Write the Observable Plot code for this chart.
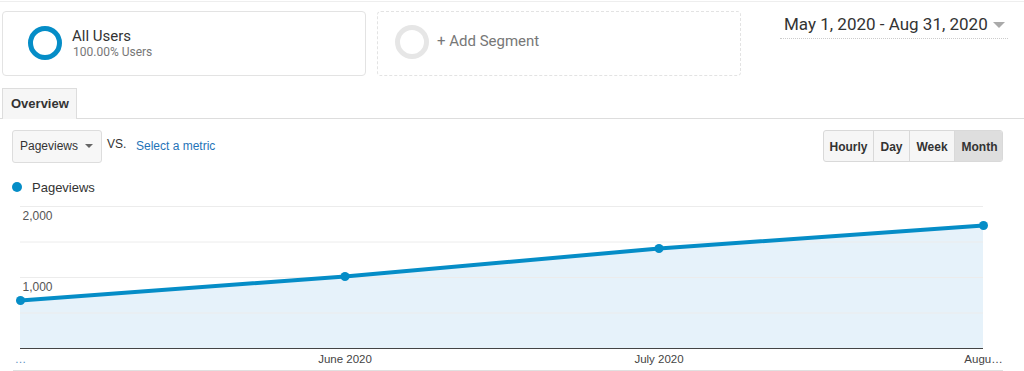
<!DOCTYPE html>
<html>
<head>
<meta charset="utf-8">
<script src="https://cdn.jsdelivr.net/npm/d3@7"></script>
<script src="https://cdn.jsdelivr.net/npm/@observablehq/plot@0.6"></script>
<style>
  html, body { margin: 0; padding: 0; background: #fff; }
  body { width: 1024px; height: 371px; position: relative; overflow: hidden; font-family: "Liberation Sans", Arial, sans-serif; color: #333; }
  .abs { position: absolute; }
  .seg { border: 1px solid #e3e3e3; border-radius: 4px; box-sizing: border-box; }
  .ring { border-radius: 50%; box-sizing: border-box; }
  .btn { position: absolute; top: 0; height: 32px; line-height: 32px; text-align: center; font-weight: bold; font-size: 12px; color: #333; box-sizing: border-box; border-right: 1px solid #d9d9d9; }
  #chart { position: absolute; left: 0; top: 196px; }
</style>
</head>
<body>
<div class="abs" style="left:0;top:1px;width:1024px;height:1px;background:#eee"></div>

<div class="abs seg" style="left:2px;top:11px;width:364px;height:65px"></div>
<div class="abs ring" style="left:28px;top:26px;width:34px;height:34px;border:5px solid #058dc7"></div>
<div class="abs" id="segName" style="left:72px;top:27px;font-family:Roboto,sans-serif;font-size:15px;color:#333">All Users</div>
<div class="abs" id="segPct" style="left:73px;top:45px;font-family:Roboto,sans-serif;font-size:12px;color:#777">100.00% Users</div>

<div class="abs seg" style="left:377px;top:11px;width:364px;height:65px;border:1px dashed #e3e3e3"></div>
<div class="abs ring" style="left:395px;top:25px;width:34px;height:34px;border:5px solid #e6e6e6"></div>
<div class="abs" id="addSeg" style="left:437px;top:32px;font-family:Roboto,sans-serif;font-size:15px;color:#777">+ Add Segment</div>

<div class="abs" id="dateRange" style="left:784px;top:14px;font-family:Roboto,sans-serif;font-size:17px;color:#333">May 1, 2020 - Aug 31, 2020</div>
<div class="abs" style="left:993px;top:22px;width:0;height:0;border-left:6px solid transparent;border-right:6px solid transparent;border-top:6px solid #aaa"></div>
<div class="abs" style="left:780px;top:38px;width:228px;height:0;border-top:1px dotted #ccc"></div>

<div class="abs" style="left:0;top:118px;width:1024px;height:1px;background:#ddd"></div>
<div class="abs" style="left:2px;top:88px;width:75px;height:31px;background:#f6f6f6;border:1px solid #ddd;border-bottom:none;box-sizing:border-box"></div>
<div class="abs" style="left:11px;top:96px;font-size:13px;font-weight:bold;color:#333">Overview</div>

<div class="abs" style="left:12px;top:130px;width:90px;height:33px;border:1px solid #ddd;border-radius:3px;background:#f7f7f7;box-sizing:border-box"></div>
<div class="abs" style="left:20px;top:139px;font-size:12px;color:#333">Pageviews</div>
<div class="abs" style="left:85px;top:144px;width:0;height:0;border-left:4px solid transparent;border-right:4px solid transparent;border-top:4px solid #666"></div>
<div class="abs" style="left:107px;top:137px;font-size:12px;color:#333">VS.</div>
<div class="abs" style="left:136px;top:139px;font-size:12px;color:#1f74b8">Select a metric</div>

<div class="abs" style="left:823px;top:130px;width:180px;height:32px;border:1px solid #d9d9d9;border-radius:3px;background:#f6f6f6;box-sizing:border-box;overflow:hidden">
  <div class="btn" style="left:0;width:50px">Hourly</div>
  <div class="btn" style="left:50px;width:36px">Day</div>
  <div class="btn" style="left:86px;width:45px">Week</div>
  <div class="btn" style="left:131px;width:49px;background:#dedede;border-right:none">Month</div>
</div>

<div class="abs" style="left:12px;top:182px;width:10px;height:10px;border-radius:50%;background:#058dc7"></div>
<div class="abs" style="left:32px;top:180px;font-size:13px;color:#333">Pageviews</div>

<div class="abs" style="left:13px;top:370px;width:990px;height:1px;background:#e0e0e0"></div>

<div id="chart"></div>

<script>
const months = ["2020-05-01", "2020-06-01", "2020-07-01", "2020-08-01"];
const pageviews = [676, 1014, 1408, 1732];
const xLabels = ["…", "June 2020", "July 2020", "Augu…"];
const gridValues = [500, 1000, 1500, 2000];
const yTickValues = [1000, 2000];
const yTickLabels = ["1,000", "2,000"];

const parse = d3.utcParse("%Y-%m-%d");
const data = months.map((m, i) => ({date: parse(m), value: pageviews[i]}));
const xTicks = months.map((m, i) => ({date: parse(m), label: xLabels[i]}));
const yTicks = yTickValues.map((v, i) => ({value: v, label: yTickLabels[i], date: parse(months[0])}));

const chart = Plot.plot({
  width: 1024,
  height: 175,
  marginLeft: 20,
  marginRight: 41,
  marginTop: 10,
  marginBottom: 23,
  style: {background: "transparent", fontFamily: "'Liberation Sans', Arial, sans-serif"},
  x: {type: "utc", domain: [parse(months[0]), parse(months[months.length - 1])], axis: null},
  y: {domain: [0, 2000], axis: null},
  marks: [
    Plot.areaY(data, {x: "date", y: "value", fill: "#e6f2fa"}),
    Plot.ruleY(gridValues, {stroke: "#ececec", strokeWidth: 1}),
    Plot.ruleY([0], {stroke: "#444", strokeWidth: 1}),
    Plot.text(yTicks, {x: "date", y: "value", text: "label", textAnchor: "start", dx: 2, dy: 9.5, fontSize: 12, fill: "#555"}),
    Plot.line(data, {x: "date", y: "value", stroke: "#058dc7", strokeWidth: 4}),
    Plot.dot(data, {x: "date", y: "value", r: 4.5, fill: "#058dc7"}),
    Plot.text(xTicks, {x: "date", y: () => 0, text: "label", dy: 11, fontSize: 11.5, fill: (d, i) => i === 0 ? "#5a8fbf" : "#444"})
  ]
});
document.getElementById("chart").appendChild(chart);
</script>
</body>
</html>
